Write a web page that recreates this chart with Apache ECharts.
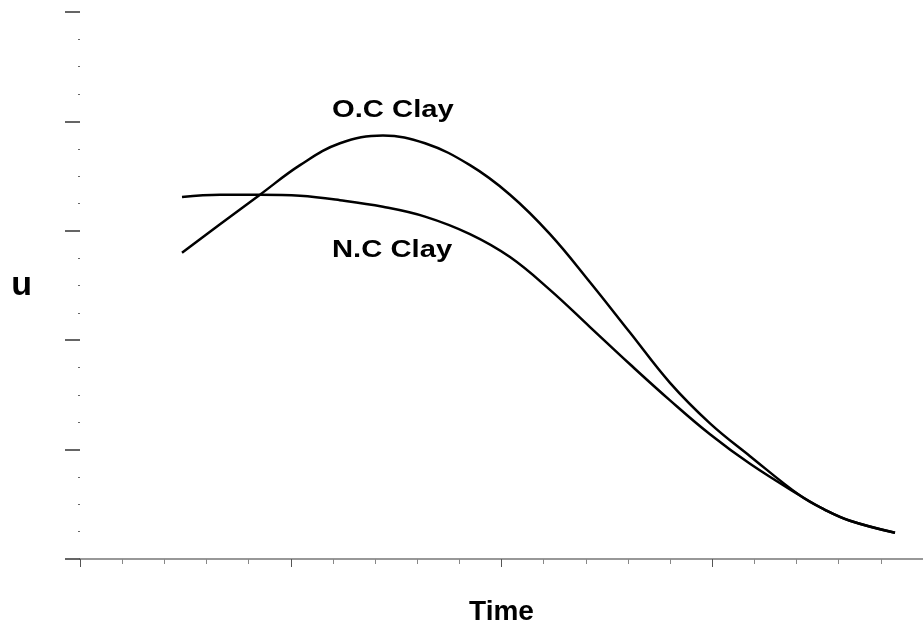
<!DOCTYPE html>
<html>
<head>
<meta charset="utf-8">
<title>u - Time</title>
<script src="https://cdn.jsdelivr.net/npm/echarts@6/dist/echarts.min.js"></script>
<style>
	html, body { margin: 0; padding: 0; background: #fff; }
	#main { width: 923px; height: 626px; }
</style>
</head>
<body>
<div id="main"></div>
<script>
// time position along the axis (0-100), shared by both curves
var timePos = [12.10, 16.61, 21.35, 26.10, 30.84, 35.94, 40.93, 46.26, 51.01, 55.75, 60.50, 65.24, 69.99, 74.73, 79.48, 85.41, 88.37, 91.34, 96.68]

// u values
var ocU = [2.80, 3.06, 3.33, 3.60, 3.80, 3.87, 3.80, 3.60, 3.33, 2.97, 2.53, 2.07, 1.61, 1.24, 0.94, 0.58, 0.45, 0.35, 0.24]
var ncU = [3.31, 3.33, 3.33, 3.32, 3.28, 3.22, 3.13, 2.97, 2.76, 2.46, 2.12, 1.78, 1.45, 1.14, 0.87, 0.58, 0.45, 0.35, 0.24]

var labels = ['O.C Clay', 'N.C Clay']

function pairs(xs, ys) {
	var out = []
	for (var i = 0; i < xs.length; i++) {
		out.push([xs[i], ys[i]])
	}
	return out
}

var chart = echarts.init(document.getElementById('main'), null, { renderer: 'canvas' })

var option = {
	animation: false,
	backgroundColor: '#fff',
	grid: {
		left: 80,
		right: 0,
		top: 12,
		bottom: 67,
		outerBoundsMode: 'none'
	},
	xAxis: {
		type: 'value',
		min: 0,
		max: 100,
		interval: 25,
		name: 'Time',
		nameLocation: 'middle',
		nameGap: 39,
		nameTextStyle: {
			color: '#000',
			fontFamily: 'Liberation Sans',
			fontWeight: 'bold',
			fontSize: 28
		},
		axisLine: { lineStyle: { color: '#777', width: 1.5 } },
		axisTick: { show: true, length: 8, lineStyle: { color: '#555' } },
		minorTick: { show: true, splitNumber: 5, length: 5, lineStyle: { color: '#888' } },
		axisLabel: { show: false },
		splitLine: { show: false }
	},
	yAxis: {
		type: 'value',
		min: 0,
		max: 5,
		interval: 1,
		name: 'u',
		nameLocation: 'middle',
		nameRotate: 0,
		nameGap: 48,
		nameTextStyle: {
			color: '#000',
			fontFamily: 'Liberation Sans',
			fontWeight: 'bold',
			fontSize: 34
		},
		axisLine: { show: false },
		axisTick: { show: true, length: 15, lineStyle: { color: '#333', width: 1.5 } },
		minorTick: { show: true, splitNumber: 4, length: 2, lineStyle: { color: '#666' } },
		axisLabel: { show: false },
		splitLine: { show: false }
	},
	graphic: [
		{
			type: 'text',
			left: 332,
			top: 99,
			scaleX: 1.27,
			style: {
				text: labels[0],
				fill: '#000',
				font: 'bold 23px "Liberation Sans"'
			}
		},
		{
			type: 'text',
			left: 332,
			top: 239,
			scaleX: 1.27,
			style: {
				text: labels[1],
				fill: '#000',
				font: 'bold 23px "Liberation Sans"'
			}
		}
	],
	series: [
		{
			name: labels[0],
			type: 'line',
			smooth: 0.4,
			showSymbol: false,
			lineStyle: { color: '#000', width: 2.5 },
			data: pairs(timePos, ocU)
		},
		{
			name: labels[1],
			type: 'line',
			smooth: 0.4,
			showSymbol: false,
			lineStyle: { color: '#000', width: 2.5 },
			data: pairs(timePos, ncU)
		}
	]
}

chart.setOption(option)
</script>
</body>
</html>
